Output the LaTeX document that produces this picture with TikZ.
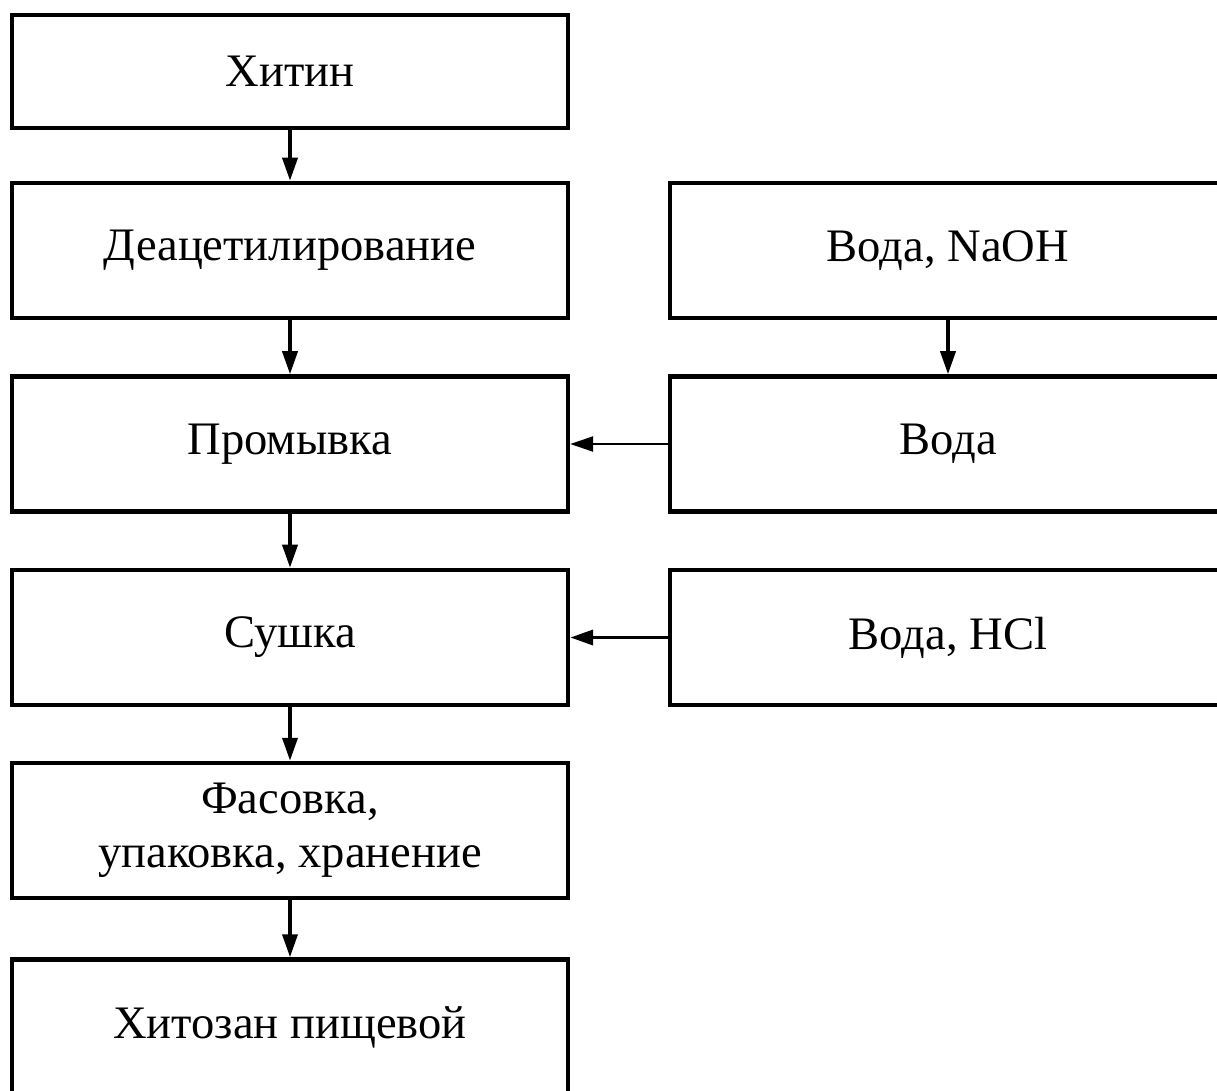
\documentclass[tikz,border=0pt]{standalone}
\usepackage{fontspec}
\setmainfont{Liberation Serif}
\usetikzlibrary{arrows.meta}

\begin{document}
\begin{tikzpicture}[x=0.02cm,y=-0.02cm,
  every node/.style={font=\fontsize{26.5}{31}\selectfont},
  stepbox/.style={draw,line width=2.6pt,minimum width=11.12cm,minimum height=2.7cm,align=center,inner sep=0pt},
  flow/.style={->,line width=2.1pt},
  >={Triangle[length=0.46cm,width=0.3cm]}]
  \useasboundingbox (0,0) rectangle (1217,1090);
  \clip (0,0) rectangle (1217,1090);
  % main line
  \foreach \i/\y/\h/\t in {1/71.5/2.26/Хитин,2/250.5/2.7/Деацетилирование,3/444/2.7/Промывка,4/637.5/2.7/Сушка,5/830.5/2.7/{Фасовка,\\упаковка, хранение},6/1027/2.7/Хитозан пищевой}{
    \node[stepbox,minimum height=\h cm] (s\i) at (290,\y) {\t};
  }
  \foreach \i/\j in {1/2,2/3,3/4,4/5,5/6}
    \draw[flow] (s\i) -- (s\j);
  % reagents
  \node[stepbox] (r1) at (948,250.5) {Вода, NaOH};
  \node[stepbox] (r2) at (948,444) {Вода};
  \node[stepbox] (r3) at (948,637.5) {Вода, HCl};
  \draw[flow] (r1) -- (r2);
  \draw[flow,line width=1.4pt] (r2) -- (s3);
  \draw[flow] (r3) -- (s4);
\end{tikzpicture}
\end{document}
